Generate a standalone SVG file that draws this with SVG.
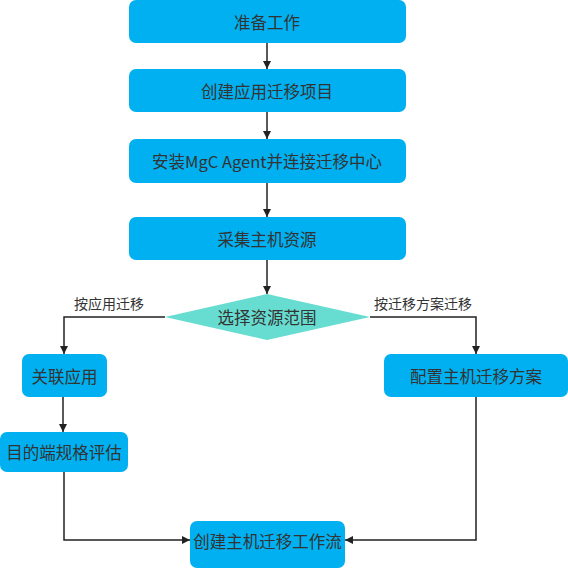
<svg xmlns="http://www.w3.org/2000/svg" width="568" height="569" viewBox="0 0 568 569">
<style>
.box{fill:#00B0F0;}
.dia{fill:#66DDD0;}
.t{font-family:"Microsoft YaHei","Noto Sans CJK SC","Noto Sans",sans-serif;font-size:16.5px;fill:#333;text-anchor:middle;dominant-baseline:central;}
.lbl{font-family:"Microsoft YaHei","Noto Sans CJK SC","Noto Sans",sans-serif;font-size:14px;fill:#333;text-anchor:middle;}
.c{fill:none;stroke:#222;stroke-width:1.5;marker-end:url(#ah);}
</style>
<defs>
<marker id="ah" viewBox="0 0 10 10" refX="10" refY="5" markerWidth="8" markerHeight="8" markerUnits="userSpaceOnUse" orient="auto">
<path d="M0,0 L10,5 L0,10 Z" fill="#222"/>
</marker>
</defs>
<rect width="568" height="569" fill="#fff"/>
<g id="connectors">
<path class="c" d="M267,43 V69"/>
<path class="c" d="M267,112 V139"/>
<path class="c" d="M267,183 V217"/>
<path class="c" d="M267,260 V294"/>
<path class="c" d="M165,317 H64 V354"/>
<path class="c" d="M370,317 H476 V354"/>
<path class="c" d="M63,397 V432"/>
<path class="c" d="M64,471 V540 H190"/>
<path class="c" d="M476,397 V540 H345"/>
<text class="lbl" x="109" y="309">按应用迁移</text>
<text class="lbl" x="423" y="309">按迁移方案迁移</text>
</g>
<g id="n1"><rect class="box" x="129" y="0" width="277" height="43" rx="7"/><text class="t" x="267" y="21.5">准备工作</text></g>
<g id="n2"><rect class="box" x="129" y="69" width="277" height="43" rx="7"/><text class="t" x="267" y="91">创建应用迁移项目</text></g>
<g id="n3"><rect class="box" x="129" y="139" width="277" height="44" rx="7"/><text class="t" x="267" y="161">安装MgC Agent并连接迁移中心</text></g>
<g id="n4"><rect class="box" x="129" y="217" width="277" height="43" rx="7"/><text class="t" x="267" y="239">采集主机资源</text></g>
<g id="n5"><polygon class="dia" points="267,294 370,317 267,340 165,317"/><text class="t" x="267" y="317">选择资源范围</text></g>
<g id="n6"><rect class="box" x="22" y="354" width="85" height="43" rx="7"/><text class="t" x="64.5" y="376">关联应用</text></g>
<g id="n7"><rect class="box" x="384" y="354" width="184" height="43" rx="7"/><text class="t" x="476" y="376">配置主机迁移方案</text></g>
<g id="n8"><rect class="box" x="0" y="432" width="128" height="40" rx="7"/><text class="t" x="64" y="452">目的端规格评估</text></g>
<g id="n9"><rect class="box" x="190" y="521" width="155" height="47" rx="7"/><text class="t" x="267.5" y="541">创建主机迁移工作流</text></g>
</svg>
